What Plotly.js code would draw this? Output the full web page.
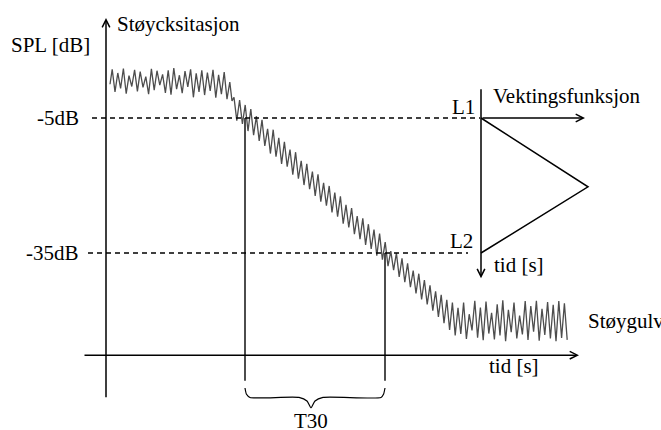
<!DOCTYPE html>
<html>
<head>
<meta charset="utf-8">
<script src="https://cdn.plot.ly/plotly-3.0.1.min.js"></script>
<style>html,body{margin:0;padding:0;background:#fff;}#chart{width:661px;height:430px;}</style>
</head>
<body>
<div id="chart"></div>
<script>
// ---- data (time in arbitrary units, level in dB) ----
var curveT = [
  0.40,0.62,0.90,1.18,1.46,1.74,2.02,2.30,2.58,2.86,3.14,3.42,3.70,3.98,4.26,4.54,4.82,5.10,5.38,5.66,
  5.94,6.22,6.50,6.78,7.06,7.34,7.62,7.90,8.18,8.46,8.74,9.02,9.30,9.58,9.86,10.14,10.42,10.70,10.98,11.26,
  11.54,11.82,12.10,12.38,12.60,
  12.80,13.08,13.36,13.64,13.92,14.20,14.48,14.76,15.04,15.32,15.60,15.88,16.16,16.44,16.72,17.00,
  17.28,17.56,17.84,18.12,18.40,18.68,18.96,19.24,19.52,19.80,20.08,20.36,20.64,20.92,21.20,21.48,
  21.76,22.04,22.32,22.60,22.88,23.16,23.44,23.72,24.00,24.28,24.56,24.84,25.12,25.40,25.68,25.96,
  26.24,26.52,26.80,27.08,27.36,27.64,27.92,28.20,28.48,28.76,29.04,29.32,29.60,29.88,30.16,30.44,
  30.72,31.00,31.28,31.56,31.84,32.12,32.40,32.68,32.96,33.24,33.52,33.80,34.08,34.36,34.64,34.92,
  35.20,35.48,35.76,36.04,36.32,36.60,36.88,37.16,37.44,37.72,38.00,38.28,38.56,38.84,39.12,39.40,
  39.68,39.96,40.24,40.52,40.80,41.08,41.36,41.64,41.92,42.20,42.48,42.76,43.04,43.32,43.60,43.88,
  44.16,44.44,44.72,45.00,45.28,45.56,45.84,46.12
];
var curveDb = [
  2.5,5.8,0.8,5.0,1.6,6.0,0.4,4.4,2.0,5.7,0.9,5.3,1.8,4.2,0.3,5.9,1.2,5.5,2.3,4.7,
  0.6,5.6,0.2,6.1,1.4,4.5,0.5,5.4,1.9,5.8,-0.4,4.9,0.8,5.6,0.1,5.1,1.0,5.7,-0.5,4.6,
  0.3,5.2,-0.8,3.0,-1.2,
  -0.4,-5.6,-1.0,-6.3,-2.1,-7.9,-3.0,-8.8,-4.6,-10.1,-5.4,-11.2,-7.4,-12.9,-7.6,-13.6,
  -9.4,-15.2,-10.3,-15.8,-12.0,-17.6,-12.6,-18.5,-14.5,-19.9,-15.2,-20.8,-16.9,-22.3,-17.5,-23.6,
  -19.4,-24.5,-20.1,-26.0,-21.6,-26.9,-22.4,-28.5,-24.3,-29.3,-25.0,-30.8,-26.8,-31.9,-27.3,-33.2,
  -28.6,-34.1,-29.8,-35.6,-30.7,-36.5,-32.6,-37.9,-34.6,-38.8,-35.0,-40.3,-36.2,-41.5,-37.3,-42.6,
  -38.9,-44.0,-39.6,-45.3,-41.0,-46.4,-42.2,-47.8,-43.5,-49.2,-44.3,-50.6,-45.4,-52.1,-46.0,-53.3,
  -47.2,-53.0,-46.0,-54.1,-48.6,-52.2,-45.6,-53.8,-47.1,-54.4,-45.8,-52.9,-48.3,-54.2,-46.4,-53.3,
  -45.5,-54.6,-47.6,-52.6,-46.0,-54.0,-48.9,-53.1,-45.7,-54.3,-46.8,-52.5,-45.6,-54.5,-47.4,-53.2,
  -45.9,-54.0,-46.5,-54.6,-45.7,-53.9,-46.2,-54.3
];
var levelsDb = [-5, -35];
var levelLabels = ['-5dB', '-35dB'];
var t30Start = 13.9, t30End = 27.9;
var axisBottomDb = -63.4;
var braceT  = [13.9, 14.05, 14.4, 19.3, 20.1, 20.5, 20.9, 21.7, 27.5, 27.75, 27.9];
var braceDb = [-65.0, -66.4, -67.1, -67.1, -67.9, -69.4, -67.9, -67.1, -67.1, -66.4, -65.0];
var weightT  = [37.5, 48.2, 37.5];
var weightDb = [-5, -20.3, -35];

var FONT = {family: 'Liberation Serif, Times New Roman, serif', size: 21, color: '#000'};

var traces = [
  {x: curveT, y: curveDb, mode: 'lines', line: {color: '#4d4d4d', width: 1.3}, hoverinfo: 'skip'},
  {x: [-1.4, 37.4], y: [levelsDb[0], levelsDb[0]], mode: 'lines', line: {color: '#000', width: 1.4, dash: '5px,4px'}},
  {x: [-1.8, 36.2], y: [levelsDb[1], levelsDb[1]], mode: 'lines', line: {color: '#000', width: 1.4, dash: '5px,4px'}},
  {x: [t30Start, t30Start], y: [levelsDb[0], axisBottomDb], mode: 'lines', line: {color: '#000', width: 1.4}},
  {x: [t30End, t30End], y: [levelsDb[1], axisBottomDb], mode: 'lines', line: {color: '#000', width: 1.4}},
  {x: braceT, y: braceDb, mode: 'lines', line: {color: '#000', width: 1.2, shape: 'spline', smoothing: 0.6}},
  {x: weightT, y: weightDb, mode: 'lines', line: {color: '#000', width: 1.5}}
];

function arrow(x0, y0, x1, y1) {
  return {x: x1, y: y1, ax: x0, ay: y0, xref: 'x', yref: 'y', axref: 'x', ayref: 'y',
          text: '', showarrow: true, arrowhead: 5, arrowsize: 1.0, arrowwidth: 1.5, arrowcolor: '#000', standoff: 0, startstandoff: 0};
}
function label(txt, x, y, xa, ya) {
  return {x: x, y: y, xref: 'x', yref: 'y', text: txt, showarrow: false, xanchor: xa || 'left', yanchor: ya || 'middle', font: FONT};
}

var annotations = [
  arrow(0, -67.4, 0, 17.2),
  arrow(-2.3, -57.7, 47.3, -57.7),
  arrow(37.5, 1.7, 37.5, -40.6),
  arrow(37.5, -5, 47.9, -5),
  label('Støycksitasjon', 0.9, 15.8),
  label('SPL [dB]', -9.7, 11.3),
  label(levelLabels[0], -2.5, levelsDb[0], 'right'),
  label(levelLabels[1], -2.5, levelsDb[1], 'right'),
  label('L1', 35.7, -2.6, 'center'),
  label('L2', 35.5, -32.3, 'center'),
  label('Vektingsfunksjon', 38.5, 0.0),
  label('tid [s]', 38.6, -37.6),
  label('Støygulv', 48.0, -50.0),
  label('tid [s]', 38.1, -60.0),
  label('T30', 20.5, -72.3, 'center')
];

var layout = {
  width: 661, height: 430,
  margin: {l: 0, r: 0, t: 0, b: 0},
  paper_bgcolor: '#fff', plot_bgcolor: '#fff',
  showlegend: false,
  xaxis: {range: [-10.6, 55.5], visible: false, fixedrange: true},
  yaxis: {range: [-74.33, 21.22], visible: false, fixedrange: true},
  annotations: annotations
};

Plotly.newPlot('chart', traces, layout, {displayModeBar: false, staticPlot: true});
</script>
</body>
</html>
